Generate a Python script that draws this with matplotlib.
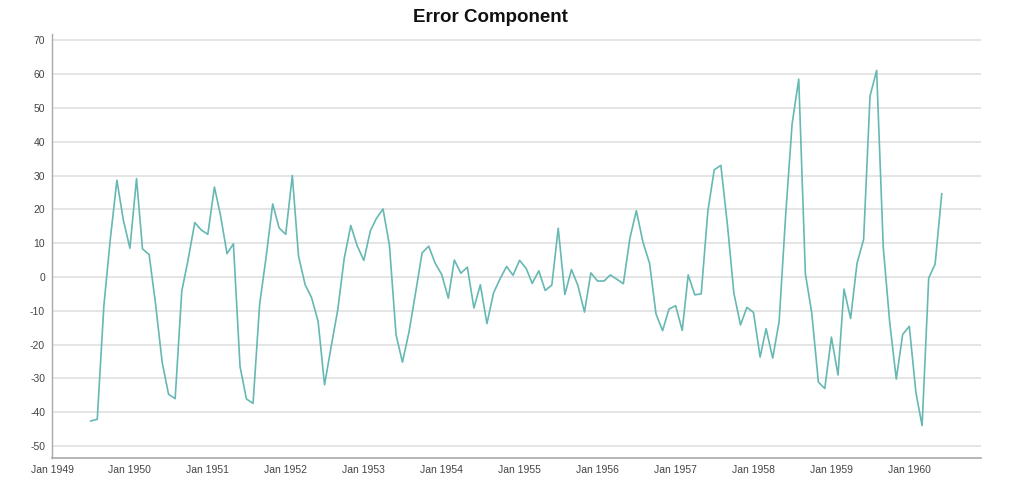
import numpy as np
import pandas as pd
import matplotlib.pyplot as plt
import matplotlib.dates as mdates

# residuals, Jul 1949 .. Jun 1960 (monthly)
start_month = '1949-07-01'
err_1949 = [-42.6, -42.1, -8.5, 11.1, 28.6, 16.9]
err_1950 = [8.5, 29.1, 8.3, 6.6, -7.9, -25.2, -34.7, -36.0, -4.2, 5.2, 16.1, 13.9]
err_1951 = [12.6, 26.6, 18.4, 6.9, 9.8, -26.5, -36.1, -37.4, -8.0, 5.8, 21.6, 14.5]
err_1952 = [12.6, 30.0, 6.2, -2.3, -6.1, -13.2, -31.9, -20.6, -9.7, 5.4, 15.2, 9.2]
err_1953 = [4.9, 13.7, 17.3, 20.1, 9.4, -17.1, -25.2, -16.2, -4.5, 7.1, 9.1, 4.1]
err_1954 = [0.7, -6.3, 5.0, 1.1, 2.9, -9.2, -2.3, -13.8, -4.7, -0.6, 3.1, 0.5]
err_1955 = [4.9, 2.5, -1.9, 1.8, -4.0, -2.4, 14.4, -5.2, 2.2, -2.5, -10.4, 1.2]
err_1956 = [-1.2, -1.2, 0.6, -0.7, -2.0, 11.5, 19.6, 10.3, 4.0, -10.9, -15.9, -9.5]
err_1957 = [-8.5, -15.8, 0.6, -5.3, -5.0, 19.4, 31.7, 33.0, 15.3, -4.8, -14.2, -9.0]
err_1958 = [-10.5, -23.7, -15.3, -24.0, -13.2, 18.6, 45.3, 58.5, 1.0, -10.7, -31.1, -33.0]
err_1959 = [-17.8, -29.0, -3.6, -12.3, 4.0, 11.1, 53.5, 61.1, 8.8, -13.3, -30.2, -17.0]
err_1960 = [-14.6, -34.2, -44.0, -0.3, 3.8, 24.6]

errors = (err_1949 + err_1950 + err_1951 + err_1952 + err_1953 + err_1954 +
          err_1955 + err_1956 + err_1957 + err_1958 + err_1959 + err_1960)
dates = pd.date_range(start_month, periods=len(errors), freq='MS')

y_ticks = np.arange(-50, 71, 10)

plt.rcParams['font.family'] = ['Liberation Sans', 'DejaVu Sans']
plt.rcParams['axes.unicode_minus'] = False

fig = plt.figure(figsize=(10.24, 5.0), dpi=100)
ax = fig.add_axes([0.0508, 0.084, 0.907, 0.849])

ax.plot(dates, errors, color='#66b8b3', linewidth=1.2, zorder=3)

ax.set_xlim(pd.Timestamp('1949-01-01'), pd.Timestamp('1960-12-01'))
ax.set_ylim(-53.55, 72.0)
ax.set_yticks(y_ticks)
ax.xaxis.set_major_locator(mdates.YearLocator())
ax.xaxis.set_major_formatter(mdates.DateFormatter('%b %Y'))

ax.grid(axis='y', color='#dedede', linewidth=1.1)
ax.set_axisbelow(True)
ax.tick_params(axis='both', length=0, labelsize=7.5, colors='#444444')
ax.tick_params(axis='x', pad=5)
ax.tick_params(axis='y', pad=5)

for side in ['top', 'right']:
    ax.spines[side].set_visible(False)
ax.spines['left'].set_color('#aaaaaa')
ax.spines['bottom'].set_color('#aaaaaa')
ax.spines['left'].set_linewidth(1.0)
ax.spines['bottom'].set_linewidth(1.2)

fig.text(490 / 1024, 1 - 17 / 500, 'Error Component', ha='center', va='center',
         fontsize=13.5, fontweight='bold', color='#111111')

fig.savefig('out.png', dpi=100)
